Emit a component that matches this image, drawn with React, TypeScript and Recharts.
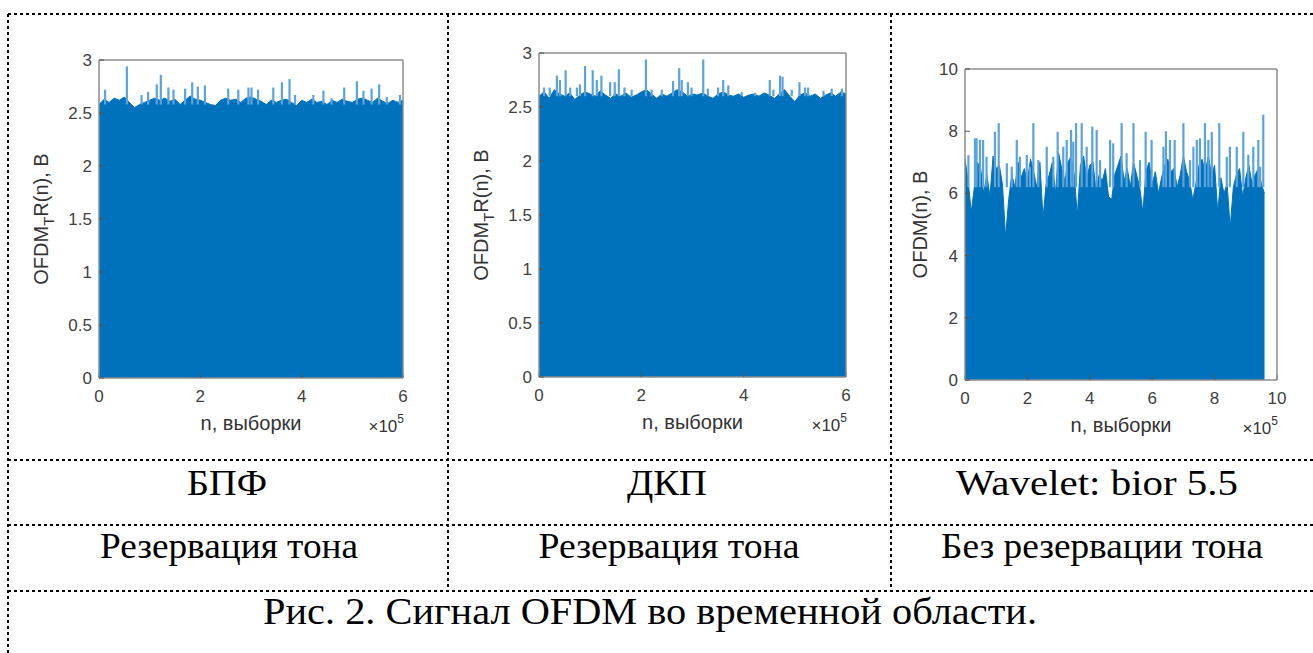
import { ComposedChart, Area, Bar, Line, XAxis, YAxis } from "recharts";

const SANS = "'Liberation Sans', Arial, sans-serif";
const SERIF = "'Liberation Serif', 'Times New Roman', serif";
const BLUE = "#0072BD";
const LIGHT = "#5ca3dc";
const AXIS = "#8c8c8c";
const TICK_TXT = "#404040";

// БПФ, резервация тона: envelope of the dense signal, one value per 0.1·10^5 samples
const fftBody = [
	2.58, 2.63, 2.6, 2.64, 2.62, 2.65, 2.6, 2.55, 2.58, 2.6, 2.62, 2.64, 2.62,
	2.64, 2.61, 2.63, 2.58, 2.62, 2.66, 2.63, 2.62, 2.6, 2.58, 2.57, 2.62, 2.64,
	2.62, 2.63, 2.6, 2.64, 2.65, 2.63, 2.61, 2.58, 2.62, 2.6, 2.62, 2.63, 2.6,
	2.57, 2.62, 2.6, 2.63, 2.6, 2.61, 2.58, 2.62, 2.6, 2.63, 2.61, 2.6, 2.63,
	2.64, 2.62, 2.6, 2.64, 2.61, 2.59, 2.62, 2.6, 2.62,
];
const fftSpikeN = [
	0.12, 0.55, 0.84, 0.97, 1.14, 1.22, 1.37, 1.47, 1.7, 1.84, 1.95, 2.09, 2.55,
	2.75, 2.95, 3.01, 3.14, 3.44, 3.61, 3.76, 3.87, 4.23, 4.43, 4.59, 4.84, 5.09,
	5.22, 5.38, 5.53, 5.68, 5.94,
];
const fftSpikeV = [
	2.72, 2.94, 2.67, 2.7, 2.77, 2.86, 2.74, 2.72, 2.73, 2.79, 2.75, 2.76, 2.73,
	2.72, 2.74, 2.74, 2.72, 2.74, 2.79, 2.82, 2.67, 2.67, 2.71, 2.64, 2.74, 2.8,
	2.71, 2.73, 2.77, 2.65, 2.67,
];
const fftSpikeFloor = 2.58;

// ДКП, резервация тона
const dctBody = [
	2.6, 2.64, 2.58, 2.66, 2.62, 2.6, 2.63, 2.57, 2.61, 2.64, 2.62, 2.6, 2.65,
	2.61, 2.58, 2.62, 2.6, 2.63, 2.59, 2.61, 2.64, 2.66, 2.62, 2.58, 2.62, 2.6,
	2.63, 2.66, 2.64, 2.6, 2.62, 2.61, 2.63, 2.6, 2.58, 2.62, 2.64, 2.61, 2.6,
	2.62, 2.59, 2.61, 2.62, 2.6, 2.63, 2.61, 2.58, 2.62, 2.66, 2.6, 2.55, 2.61,
	2.63, 2.6, 2.62, 2.58, 2.61, 2.63, 2.6, 2.64, 2.62,
];
const dctSpikeN = [
	0.1, 0.21, 0.35, 0.41, 0.52, 0.61, 0.74, 0.8, 0.9, 1.05, 1.13, 1.22, 1.39,
	1.48, 1.56, 1.67, 1.81, 2.09, 2.2, 2.4, 2.62, 2.74, 2.79, 2.91, 2.98, 3.21,
	3.3, 3.5, 3.6, 3.7, 3.96, 4.22, 4.51, 4.58, 4.71, 4.76, 4.94, 5.09, 5.2,
	5.26, 5.56, 5.72, 5.92,
];
const dctSpikeV = [
	2.68, 2.68, 2.79, 2.75, 2.84, 2.68, 2.68, 2.71, 2.88, 2.84, 2.75, 2.79, 2.73,
	2.73, 2.85, 2.68, 2.66, 2.94, 2.66, 2.66, 2.74, 2.86, 2.75, 2.73, 2.68, 2.94,
	2.67, 2.68, 2.75, 2.7, 2.64, 2.63, 2.75, 2.66, 2.79, 2.78, 2.66, 2.73, 2.68,
	2.68, 2.65, 2.67, 2.67,
];
const dctSpikeFloor = 2.6;

// Wavelet bior 5.5, без резервации тона
const wavBody = [
	7.1, 6.4, 5.4, 6.2, 7.0, 6.8, 6.0, 6.6, 5.9, 7.2, 6.8, 6.9, 6.3, 4.6, 5.8,
	6.6, 6.2, 7.0, 6.5, 6.8, 6.4, 7.1, 6.7, 6.2, 7.0, 5.2, 6.3, 6.6, 7.0, 6.0,
	7.3, 6.8, 6.4, 7.0, 7.2, 6.6, 5.3, 6.9, 7.2, 6.5, 6.9, 7.0, 6.1, 6.6, 6.4,
	6.8, 5.9, 5.8, 6.6, 6.9, 7.2, 6.4, 6.8, 6.2, 7.0, 6.6, 6.2, 5.4, 6.7, 7.0,
	6.3, 6.7, 6.0, 6.5, 6.9, 7.1, 6.7, 6.8, 6.2, 6.6, 7.2, 6.7, 6.4, 5.8, 6.3,
	6.9, 7.1, 6.7, 7.2, 6.6, 6.9, 5.4, 6.5, 6.0, 6.3, 4.9, 6.2, 6.6, 6.8, 5.9,
	6.5, 6.9, 6.3, 6.6, 6.8, 6.3, 6.0,
];
const wavSpikeN = [
	0.11, 0.32, 0.37, 0.48, 0.58, 0.69, 0.96, 1.08, 1.34, 1.5, 1.66, 1.76,
	1.98, 2.08, 2.19, 2.35, 2.62, 2.83, 2.97, 3.15, 3.26, 3.4, 3.47, 3.56, 3.74,
	3.9, 4.08, 4.22, 4.33, 4.65, 4.75, 5.02, 5.18, 5.4, 5.61, 5.79, 5.98, 6.36,
	6.44, 6.57, 6.72, 7.0, 7.21, 7.32, 7.43, 7.53, 7.69, 7.8, 7.91, 8.15, 8.39,
	8.49, 8.71, 8.92, 9.08, 9.24, 9.4, 9.46, 9.56,
];
const wavSpikeV = [
	7.23, 7.77, 7.77, 7.72, 7.72, 7.18, 7.98, 8.26, 6.97, 6.86, 7.72, 7.18,
	7.24, 6.86, 8.26, 7.07, 7.5, 7.18, 7.98, 7.5, 7.72, 8.04, 7.66, 8.26, 8.26,
	7.5, 8.15, 8.04, 7.07, 7.72, 7.61, 8.26, 7.29, 8.26, 7.07, 7.98, 7.72, 7.5,
	8.0, 7.72, 7.72, 8.26, 7.07, 7.5, 7.72, 7.77, 8.26, 7.72, 7.98, 8.26, 7.18,
	7.5, 7.5, 7.98, 7.24, 7.5, 7.72, 6.86, 8.53,
];
const wavSpikeFloor = 6.2;

const yTicks3 = [0, 0.5, 1, 1.5, 2, 2.5, 3];
const xTicks6 = [0, 2, 4, 6];
const ticks10 = [0, 2, 4, 6, 8, 10];

function buildRows(
	body: number[],
	step: number,
	spikeN: number[],
	spikeV: number[],
	floor: number,
) {
	const rows: any[] = body.map((v, i) => ({
		n: Math.round(i * step * 100) / 100,
		body: v,
	}));
	spikeN.forEach((n, i) => rows.push({ n, spike: [floor, spikeV[i]] }));
	return rows.sort((a, b) => a.n - b.n);
}

const fftRows = buildRows(fftBody, 0.1, fftSpikeN, fftSpikeV, fftSpikeFloor);
const dctRows = buildRows(dctBody, 0.1, dctSpikeN, dctSpikeV, dctSpikeFloor);
const wavRows = buildRows(wavBody, 0.1, wavSpikeN, wavSpikeV, wavSpikeFloor);

// thin spike, centred on the slot the library gives
const SpikeShape = (p: any) => {
	if (!p.height || p.height <= 0) return null;
	return <rect x={p.x + p.width / 2 - 1.1} y={p.y} width={2.2} height={p.height} fill={LIGHT} />;
};

interface PanelProps {
	x0: number;
	y0: number;
	x1: number;
	y1: number;
	rows: any[];
	xMax: number;
	xTicks: number[];
	yMax: number;
	yTicks: number[];
}

const Panel = ({ x0, y0, x1, y1, rows, xMax, xTicks, yMax, yTicks }: PanelProps) => {
	const W = x1 - x0 + 140;
	const H = y1 - y0 + 120;
	const line = { stroke: AXIS, strokeWidth: 1.5 };
	const tline = { stroke: "#555", strokeWidth: 1 };
	const tickStyle = { fill: TICK_TXT, fontSize: 17, fontFamily: SANS };
	const box = { position: "absolute" as const, left: x0 - 100, top: y0 - 60 };
	return (
		<>
			{/* signal */}
			<div style={box}>
				<ComposedChart
					width={W}
					height={H}
					data={rows}
					margin={{ top: 60, right: 40, bottom: 60, left: 100 }}
				>
					<XAxis dataKey="n" type="number" domain={[0, xMax]} allowDataOverflow hide />
					<YAxis type="number" domain={[0, yMax]} allowDataOverflow hide />
					<Bar dataKey="spike" fill={LIGHT} shape={SpikeShape} isAnimationActive={false} />
					<Area
						dataKey="body"
						type="linear"
						connectNulls
						fill={BLUE}
						fillOpacity={1}
						stroke={BLUE}
						strokeWidth={1}
						dot={false}
						activeDot={false}
						isAnimationActive={false}
					/>
				</ComposedChart>
			</div>
			{/* matlab box with inward ticks, drawn above the signal */}
			<div style={{ ...box, pointerEvents: "none" }}>
				<ComposedChart
					width={W}
					height={H}
					data={rows}
					margin={{ top: 59, right: 39, bottom: 0, left: 40 }}
				>
					<XAxis
						xAxisId="b"
						dataKey="n"
						type="number"
						domain={[0, xMax]}
						allowDataOverflow
						ticks={xTicks}
						interval={0}
						height={60}
						tickSize={-5}
						tickMargin={17}
						axisLine={line}
						tickLine={tline}
						tick={tickStyle}
					/>
					<XAxis
						xAxisId="t"
						orientation="top"
						dataKey="n"
						type="number"
						domain={[0, xMax]}
						allowDataOverflow
						ticks={xTicks}
						interval={0}
						height={1}
						tickSize={-5}
						axisLine={line}
						tickLine={tline}
						tick={false}
					/>
					<YAxis
						yAxisId="l"
						type="number"
						domain={[0, yMax]}
						allowDataOverflow
						ticks={yTicks}
						interval={0}
						width={60}
						tickSize={-5}
						tickMargin={12}
						axisLine={line}
						tickLine={tline}
						tick={tickStyle}
					/>
					<YAxis
						yAxisId="r"
						orientation="right"
						type="number"
						domain={[0, yMax]}
						allowDataOverflow
						ticks={yTicks}
						interval={0}
						width={1}
						tickSize={-5}
						axisLine={line}
						tickLine={tline}
						tick={false}
					/>
					{/* invisible series so that every axis gets its scale and ticks */}
					<Line xAxisId="b" yAxisId="l" dataKey="body" stroke="none" dot={false} activeDot={false} connectNulls isAnimationActive={false} />
					<Line xAxisId="t" yAxisId="r" dataKey="body" stroke="none" dot={false} activeDot={false} connectNulls isAnimationActive={false} />
				</ComposedChart>
			</div>
		</>
	);
};

// text decorations of one matlab axes (page coordinates)
const AxisTexts = ({ x0, y0, x1, y1, yLabelX, sub }: any) => {
	const cx = (x0 + x1) / 2;
	const cy = (y0 + y1) / 2;
	return (
		<g fontFamily={SANS} fill="#333">
			<text
				x={yLabelX}
				y={cy}
				fontSize={20}
				textAnchor="middle"
				transform={`rotate(-90 ${yLabelX} ${cy})`}
			>
				{sub ? (
					<>
						OFDM
						<tspan fontSize={15} dy={6}>T</tspan>
						<tspan dy={-6}>R(n), B</tspan>
					</>
				) : (
					"OFDM(n), B"
				)}
			</text>
			<text x={cx} y={y1 + 52} fontSize={20} textAnchor="middle">
				n, выборки
			</text>
			<text x={x1 + 1} y={y1 + 54} fontSize={17} textAnchor="end">
				×10<tspan fontSize={12} dy={-9}>5</tspan>
			</text>
		</g>
	);
};

export default function App() {
	const dash = { stroke: "#000", strokeWidth: 2, strokeDasharray: "3 3" };
	const cell = { lengthAdjust: "spacingAndGlyphs" as const };
	return (
		<div
			style={{
				position: "absolute",
				left: 0,
				top: 0,
				width: 1313,
				height: 653,
				background: "#fff",
				overflow: "hidden",
			}}
		>
			<Panel x0={99} y0={60} x1={403} y1={378} rows={fftRows} xMax={6} xTicks={xTicks6} yMax={3} yTicks={yTicks3} />
			<Panel x0={539} y0={53} x1={846} y1={377} rows={dctRows} xMax={6} xTicks={xTicks6} yMax={3} yTicks={yTicks3} />
			<Panel x0={965} y0={69} x1={1277} y1={380} rows={wavRows} xMax={10} xTicks={ticks10} yMax={10} yTicks={ticks10} />
			<svg
				width={1313}
				height={653}
				style={{ position: "absolute", left: 0, top: 0, pointerEvents: "none" }}
			>
				<line x1={8} y1={14} x2={1313} y2={14} {...dash} />
				<line x1={8} y1={14} x2={8} y2={653} {...dash} />
				<line x1={448} y1={14} x2={448} y2={591} {...dash} />
				<line x1={891} y1={14} x2={891} y2={591} {...dash} />
				<line x1={8} y1={460} x2={1313} y2={460} {...dash} />
				<line x1={8} y1={525} x2={1313} y2={525} {...dash} />
				<line x1={8} y1={591} x2={1313} y2={591} {...dash} />

				<AxisTexts x0={99} y0={60} x1={403} y1={378} yLabelX={48} sub />
				<AxisTexts x0={539} y0={53} x1={846} y1={377} yLabelX={488} sub />
				<AxisTexts x0={965} y0={69} x1={1277} y1={380} yLabelX={927} />

				<g fontFamily={SERIF} fontSize={36} fill="#000" textAnchor="middle">
					<text x={227} y={495} textLength={80} {...cell}>БПФ</text>
					<text x={667} y={495} textLength={80} {...cell}>ДКП</text>
					<text x={1097} y={495} textLength={282} {...cell}>Wavelet: bior 5.5</text>
					<text x={229} y={558} textLength={258} {...cell}>Резервация тона</text>
					<text x={669} y={558} textLength={261} {...cell}>Резервация тона</text>
					<text x={1102} y={558} textLength={322} {...cell}>Без резервации тона</text>
					<text x={650} y={624} fontSize={38} textLength={774} {...cell}>
						Рис. 2. Сигнал OFDM во временной области.
					</text>
				</g>
			</svg>
		</div>
	);
}
